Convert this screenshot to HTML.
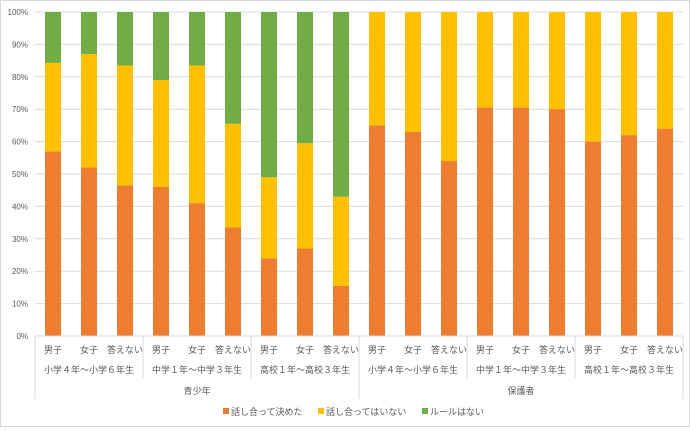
<!DOCTYPE html>
<html><head><meta charset="utf-8"><style>
body{margin:0;background:#fff;font-family:"Liberation Sans","Noto Sans CJK JP",sans-serif}
#wrap{position:relative;width:688px;height:425px;border:1px solid #d9d9d9}
text{font-family:"Liberation Sans","Noto Sans CJK JP",sans-serif;fill:#595959}
</style></head><body>
<div id="wrap">
<svg id="chart" width="688" height="425"></svg>
</div>
<script>
const subLabels=["男子","女子","答えない"];
const groupLabels=["小学４年～小学６年生","中学１年～中学３年生","高校１年～高校３年生","小学４年～小学６年生","中学１年～中学３年生","高校１年～高校３年生"];
const topLabels=["青少年","保護者"];
const seriesNames=["話し合って決めた","話し合ってはいない","ルールはない"];
const seriesColors=["#ed7d31","#ffc000","#70ad47"];
const decided=[57,52,46.5,46,41,33.5,24,27,15.5,65,63,54,70.5,70.5,70,60,62,64];
const notDiscussed=[27.3,35,37,33,42.5,32,25,32.5,27.5,35,37,46,29.5,29.5,30,40,38,36];
const noRule=[15.7,13,16.5,21,16.5,34.5,51,40.5,57,0,0,0,0,0,0,0,0,0];
const yTicks=[0,10,20,30,40,50,60,70,80,90,100];

const svg=document.getElementById('chart');const NS='http://www.w3.org/2000/svg';
const x0=34,x1=682,yb=335,yt=11;const n=decided.length;const cw=(x1-x0)/n,bw=16;
const Y=v=>yb-(v/100)*(yb-yt);const X=i=>x0+cw*(i+0.5);
function mk(tag,attrs,txt){const e=document.createElementNS(NS,tag);for(const k in attrs)e.setAttribute(k,attrs[k]);if(txt!=null)e.textContent=txt;svg.appendChild(e);return e;}
yTicks.forEach(t=>{
 const g=mk('line',{x1:x0,x2:x1,y1:Y(t),y2:Y(t),stroke:'#d9d9d9','stroke-width':1});
 
 
 const l=mk('text',{x:x0-7,y:Y(t)+3,'font-size':8,'text-anchor':'end'},t+'%');
 
 
});
const series=[decided,notDiscussed,noRule];
for(let i=0;i<n;i++){let base=0;
 series.forEach((s,k)=>{const v=s[i];if(v<=0)return;
  const r=mk('rect',{x:X(i)-bw/2,y:Y(base+v),width:bw,height:Y(base)-Y(base+v),fill:seriesColors[k]});
  
  
  base+=v;});
 const t=mk('text',{x:X(i),y:352,'font-size':9,'text-anchor':'middle'},subLabels[i%3]);
 
 
}
mk('line',{x1:x0,x2:x1,y1:yb,y2:yb,stroke:'#d9d9d9'});
for(let g=0;g<=6;g++){const x=x0+cw*3*g;const bot=(g%3===0)?398:378;
 const d=mk('line',{x1:x,x2:x,y1:yb,y2:bot,stroke:'#d9d9d9'});
 
 
 if(g<6){const t=mk('text',{x:x+cw*1.5,y:372,'font-size':9,'text-anchor':'middle'},groupLabels[g]);
 
 }
}
topLabels.forEach((s,j)=>{const t=mk('text',{x:x0+cw*9*j+cw*4.5,y:393,'font-size':9,'text-anchor':'middle'},s);
 
 });
const lx=[222,317,421];
seriesNames.forEach((s,k)=>{
 const r=mk('rect',{x:lx[k],y:407,width:6,height:6,fill:seriesColors[k]});
 
 
 const t=mk('text',{x:lx[k]+8,y:414,'font-size':9},s);
 
 
});
</script>
</body></html>
